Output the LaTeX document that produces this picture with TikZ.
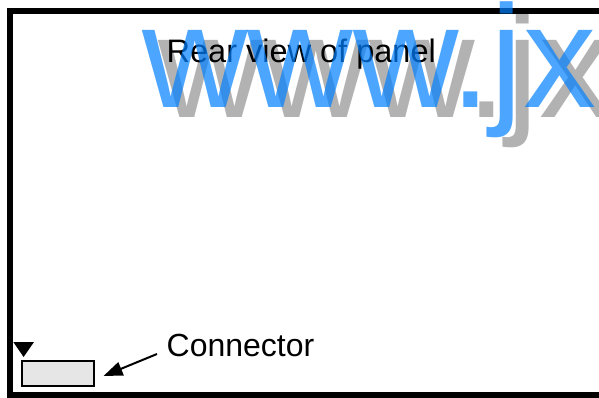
\documentclass[tikz,border=0pt]{standalone}
\usepackage{fontspec}
\setmainfont{Liberation Sans}
\usetikzlibrary{arrows.meta}
\definecolor{wmblue}{RGB}{0,128,255}
\definecolor{boxgray}{RGB}{230,230,230}
\tikzset{
  lbl/.style={anchor=base west, inner sep=0pt, font=\fontsize{32}{33}\selectfont},
  wm/.style={anchor=base west, inner sep=0pt, font=\fontsize{146}{146}\selectfont},
  frame/.style={draw=black, line width=6pt},
  connbox/.style={draw=black, fill=boxgray, line width=1.5pt},
  pointer/.style={draw=black, line width=2pt, -{Triangle[length=19pt,width=14pt]}}
}
\begin{document}
\begin{tikzpicture}[x=1pt,y=-1pt]
\useasboundingbox (0,0) rectangle (599,398);
\clip (0,0) rectangle (599,398);
\fill[white] (0,0) rectangle (599,398);
% panel frame
\draw[frame] (10,11) rectangle (650,395);
\node[lbl, font=\fontsize{32.5}{33}\selectfont] (title) at (166.5,63) {Rear view of panel};
% connector
\draw[connbox] (22,361) rectangle (94,386);
\coordinate (connR) at (103.5,376);
\fill[black] (13.3,342) -- (34,342) -- (23.6,357) -- cycle;
\node[lbl] (clabel) at (166.5,356.5) {Connector};
\coordinate (tail) at (157,354);
\draw[pointer] (tail) -- (connR);
% watermark
\node[wm, text=black, text opacity=0.3] (wmshadow) at (158,118) {www.jx};
\node[wm, text=wmblue, text opacity=0.7] (wmtext) at (142,108) {www.jx};
\end{tikzpicture}
\end{document}
